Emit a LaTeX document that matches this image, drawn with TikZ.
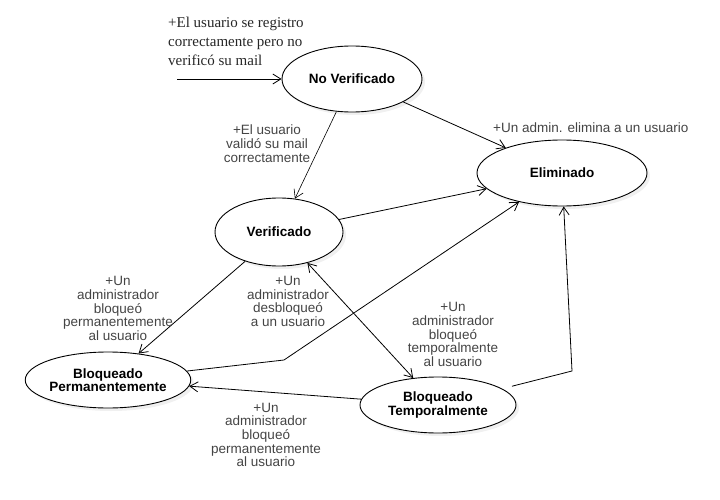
\documentclass[tikz,border=0pt]{standalone}
\usepackage{fontspec}
\setmainfont{Liberation Sans}
\newfontfamily\timesf{Liberation Serif}
\usetikzlibrary{shapes.geometric,arrows.meta,shadows}
\definecolor{labgrey}{RGB}{68,68,68}
\tikzset{
  state/.style={ellipse, draw, line width=0.9pt, fill=white, inner sep=0pt,
    align=center, font=\fontsize{13.5}{13.5}\selectfont\bfseries,
    drop shadow={shadow xshift=3pt, shadow yshift=-3pt, opacity=0.12}},
  arr/.style={-{Straight Barb[length=8pt,width=10pt]}, line width=0.8pt},
  biarr/.style={{Straight Barb[length=8pt,width=10pt]}-{Straight Barb[length=8pt,width=10pt]}, line width=0.8pt},
  lab/.style={align=center, inner sep=0pt, text=labgrey, font=\fontsize{13.5}{13.7}\selectfont},
}
\begin{document}
\begin{tikzpicture}[x=1pt,y=-1pt]
\useasboundingbox (0,0) rectangle (720,500);
% states
\node[state, minimum width=140pt, minimum height=66pt] (nv) at (352,79) {No Verificado};
\node[state, minimum width=170pt, minimum height=66pt] (el) at (562,173) {Eliminado};
\node[state, minimum width=128pt, minimum height=68pt] (ve) at (279,232) {Verificado};
\node[state, minimum width=160pt, minimum height=56pt] (bp) at (108,380) {Bloqueado\\Permanentemente};
\node[state, minimum width=156pt, minimum height=56pt] (bt) at (438,405) {Bloqueado\\Temporalmente};
% helper coordinates
\coordinate (start) at (177,79);
\coordinate (b1) at (284,360);
\coordinate (b2) at (572,371);
% connectors
\draw[arr] (start) -- (nv);
\draw[arr] (nv) -- (el);
\draw[arr, line width=0.6pt] (nv) -- (ve);
\draw[arr] (ve) -- (el);
\draw[arr] (ve) -- (bp);
\draw[biarr] (ve) -- (bt);
\draw[arr] (bt) -- (bp);
\draw[arr] (bp) -- (b1) -- (el);
\draw[arr, shorten <=10pt] (bt) -- (b2) -- (el);
% labels
\node[anchor=west, align=left, inner sep=0pt, font=\timesf\fontsize{15}{19}\selectfont, text=black!85] (l0) at (168,41.5)
  {+El usuario se registro\\correctamente pero no\\verificó su mail};
\node[lab, anchor=west] (l1) at (493,128) {+Un admin. elimina a un usuario};
\node[lab] (l2) at (267,143.5) {+El usuario\\validó su mail\\correctamente};
\node[lab] (l3) at (118,308.5) {+Un\\administrador\\bloqueó\\permanentemente\\al usuario};
\node[lab] (l4) at (288,301.5) {+Un\\administrador\\desbloqueó\\a un usuario};
\node[lab] (l5) at (453,334.5) {+Un\\administrador\\bloqueó\\temporalmente\\al usuario};
\node[lab] (l6) at (266,435) {+Un\\administrador\\bloqueó\\permanentemente\\al usuario};
\end{tikzpicture}
\end{document}
